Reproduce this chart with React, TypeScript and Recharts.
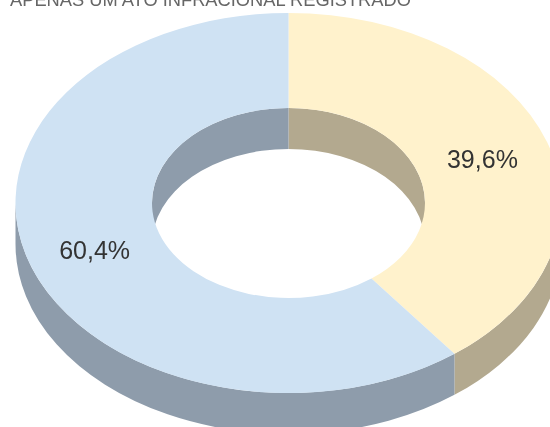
import React from 'react';
import { PieChart, Pie } from 'recharts';

const categories = ['Sim', 'Não'];
const shares = [39.6, 60.4];
const topColors = ['#FFF2CC', '#CFE2F3'];
const wallColors = ['#B3A98F', '#8E9CAB'];

const topData = categories.map((name, i) => ({ name, value: shares[i], fill: topColors[i] }));
const wallData = categories.map((name, i) => ({ name, value: shares[i], fill: wallColors[i] }));

// the pie is tilted, so circles from recharts get squashed into ellipses here
const SQUASH = 190 / 273;
const DEPTH = 41;
const RAD = Math.PI / 180;

const pt = (cx: number, cy: number, r: number, deg: number) => {
  const x = cx + r * Math.cos(deg * RAD);
  const y = cy - r * SQUASH * Math.sin(deg * RAD);
  return `${x.toFixed(2)} ${y.toFixed(2)}`;
};

const arc = (r: number, from: number, to: number, clockwise: boolean, end: string) => {
  const large = Math.abs(to - from) > 180 ? 1 : 0;
  return `A ${r} ${(r * SQUASH).toFixed(2)} 0 ${large} ${clockwise ? 1 : 0} ${end}`;
};

function band(cx: number, cy: number, r: number, from: number, to: number) {
  if (from <= to) return '';
  return [
    `M ${pt(cx, cy, r, from)}`,
    arc(r, from, to, true, pt(cx, cy, r, to)),
    `L ${pt(cx, cy + DEPTH, r, to)}`,
    arc(r, from, to, false, pt(cx, cy + DEPTH, r, from)),
    'Z',
  ].join(' ');
}

function WallShape(props: any) {
  const { cx, cy, innerRadius, outerRadius, startAngle, endAngle, fill } = props;
  // outer wall only shows on the front half, inner wall only on the back half
  const outer = band(cx, cy, outerRadius, Math.min(startAngle, 0), Math.max(endAngle, -180));
  const innerRight = band(cx, cy, innerRadius, Math.min(startAngle, 90), Math.max(endAngle, 0));
  const innerLeft = band(cx, cy, innerRadius, Math.min(startAngle, -180), Math.max(endAngle, -270));
  return <path d={`${outer} ${innerRight} ${innerLeft}`} fill={fill} stroke="none" />;
}

function TopShape(props: any) {
  const { cx, cy, innerRadius, outerRadius, startAngle, endAngle, fill } = props;
  const d = [
    `M ${pt(cx, cy, outerRadius, startAngle)}`,
    arc(outerRadius, startAngle, endAngle, true, pt(cx, cy, outerRadius, endAngle)),
    `L ${pt(cx, cy, innerRadius, endAngle)}`,
    arc(innerRadius, startAngle, endAngle, false, pt(cx, cy, innerRadius, startAngle)),
    'Z',
  ].join(' ');
  return <path d={d} fill={fill} stroke="none" />;
}

function SliceLabel(props: any) {
  const { cx, cy, innerRadius, outerRadius, midAngle, value } = props;
  const r = (innerRadius + outerRadius) / 2;
  const x = cx + r * Math.cos(midAngle * RAD);
  const y = cy - r * SQUASH * Math.sin(midAngle * RAD) + 1.5;
  return (
    <text x={x} y={y} textAnchor="middle" dominantBaseline="central" fontSize={25} fill="#333333">
      {value.toFixed(1).replace('.', ',')}%
    </text>
  );
}

export default function App() {
  return (
    <div style={{ position: 'absolute', left: 0, top: 0, width: 550, height: 427, overflow: 'hidden', filter: 'blur(0.7px)' }}>
      <PieChart width={550} height={427} margin={{ top: 0, right: 0, bottom: 0, left: 0 }} style={{ fontFamily: 'Liberation Sans, Arial, sans-serif' }}>
        <text x={10} y={6} fontSize={18.3} fill="#666666">APENAS UM ATO INFRACIONAL REGISTRADO</text>
        <Pie
          data={wallData}
          dataKey="value"
          nameKey="name"
          cx={288.5}
          cy={203}
          innerRadius={136.5}
          outerRadius={273}
          startAngle={90}
          endAngle={-270}
          shape={WallShape}
          label={false}
          labelLine={false}
          isAnimationActive={false}
        />
        <Pie
          data={topData}
          dataKey="value"
          nameKey="name"
          cx={288.5}
          cy={203}
          innerRadius={136.5}
          outerRadius={273}
          startAngle={90}
          endAngle={-270}
          shape={TopShape}
          label={SliceLabel}
          labelLine={false}
          isAnimationActive={false}
        />
      </PieChart>
    </div>
  );
}
